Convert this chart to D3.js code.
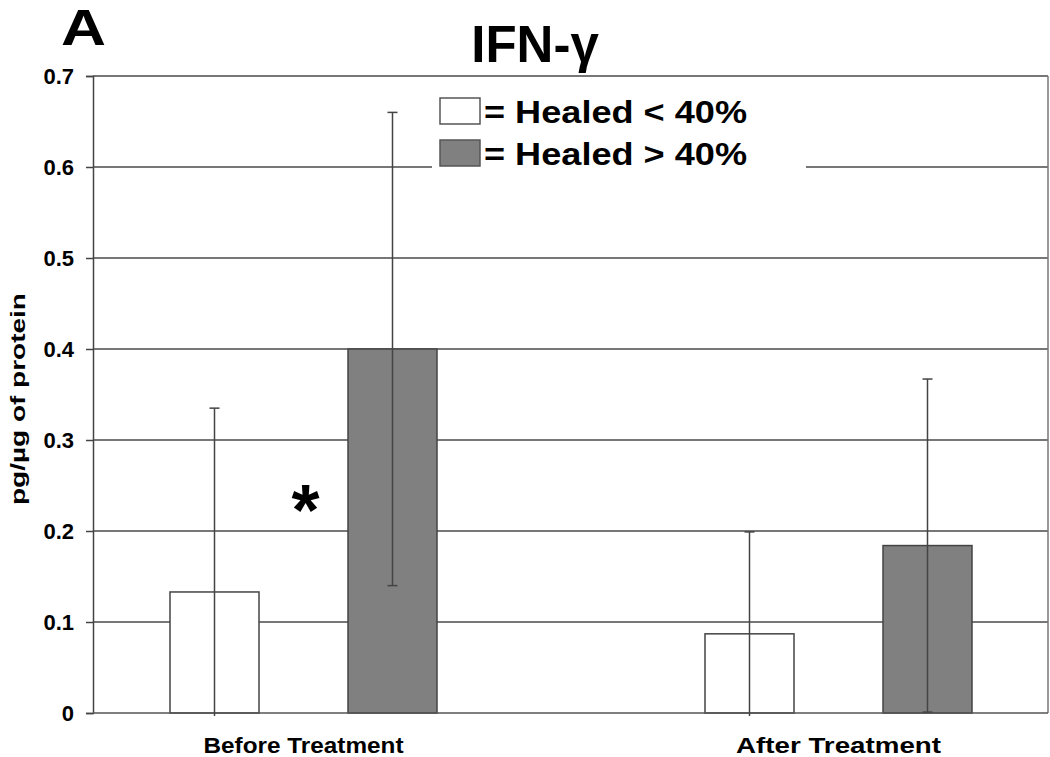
<!DOCTYPE html>
<html><head><meta charset="utf-8">
<script src="https://cdn.jsdelivr.net/npm/d3@7"></script>
<style>body{margin:0;background:#fff}svg{display:block}text{font-family:"Liberation Sans",Arial,sans-serif;font-weight:bold;fill:#000}</style>
</head><body><svg id="c" width="1050" height="757"></svg>
<script>
const categories = ["Before Treatment", "After Treatment"];
const series = ["Healed < 40%", "Healed > 40%"];
const meansLow = [0.133, 0.087];
const meansHigh = [0.400, 0.184];
const errLow = [0.202, 0.112];
const errHigh = [0.260, 0.183];
const yTicks = [0, 0.1, 0.2, 0.3, 0.4, 0.5, 0.6, 0.7];
const yTickLabels = ["0", "0.1", "0.2", "0.3", "0.4", "0.5", "0.6", "0.7"];

const svg = d3.select("#c");
const L = 93, R = 1048, T = 76, B = 713;
const y = d3.scaleLinear().domain([0, 0.7]).range([B, T]);
const x0 = d3.scaleBand().domain(categories).range([36, 1106]).padding(0);
const x1 = d3.scaleBand().domain(series).range([-133.5, 133.5]).paddingInner(0.5).paddingOuter(0);
const colors = {"Healed < 40%": "#ffffff", "Healed > 40%": "#808080"};

const data = [];
categories.forEach((c, i) => {
  data.push({cat: c, s: series[0], v: meansLow[i], e: errLow[i]});
  data.push({cat: c, s: series[1], v: meansHigh[i], e: errHigh[i]});
});

// gridlines
svg.append("g").selectAll("line").data(yTicks.filter(d => d > 0)).join("line")
  .attr("x1", L).attr("x2", R).attr("y1", d => y(d)).attr("y2", d => y(d))
  .attr("stroke", "#4a4a4a").attr("stroke-width", 1.5);

// plot border right
svg.append("line").attr("x1", R).attr("x2", R).attr("y1", T).attr("y2", B).attr("stroke", "#777").attr("stroke-width", 1.5);

// y axis
const yAxis = d3.axisLeft(y).tickValues(yTicks).tickFormat((d, i) => yTickLabels[i]).tickSize(7).tickPadding(12);
const gy = svg.append("g").attr("transform", `translate(${L},0)`).call(yAxis);
gy.select(".domain").attr("stroke", "#444").attr("stroke-width", 1.5);
gy.selectAll(".tick line").attr("stroke", "#444").attr("stroke-width", 1.5);
gy.selectAll(".tick text").style("font-size", "22px").style("font-weight", "bold").attr("fill", "#000")
  .style("font-family", "'Liberation Sans',Arial,sans-serif");

// legend background
svg.append("rect").attr("x", 432).attr("y", 82).attr("width", 374).attr("height", 96).attr("fill", "#fff");

// bars
const bx = d => x0(d.cat) + x0.bandwidth() / 2 + x1(d.s);
svg.append("g").selectAll("rect").data(data).join("rect")
  .attr("x", bx).attr("width", x1.bandwidth())
  .attr("y", d => y(d.v)).attr("height", d => y(0) - y(d.v))
  .attr("fill", d => colors[d.s]).attr("stroke", "#444").attr("stroke-width", 1.5);

// bottom axis
svg.append("line").attr("x1", L).attr("x2", R).attr("y1", B).attr("y2", B).attr("stroke", "#555").attr("stroke-width", 1.5);

// error bars
const eg = svg.append("g").attr("stroke", "#444").attr("stroke-width", 1.5);
data.forEach(d => {
  const cx = bx(d) + x1.bandwidth() / 2;
  const lo = d.v - d.e, hi = d.v + d.e;
  const yLo = lo < 0 ? y(0) + 3 : y(lo);
  eg.append("line").attr("x1", cx).attr("x2", cx).attr("y1", y(hi)).attr("y2", yLo);
  eg.append("line").attr("x1", cx - 5).attr("x2", cx + 5).attr("y1", y(hi)).attr("y2", y(hi));
  if (lo >= 0) eg.append("line").attr("x1", cx - 5).attr("x2", cx + 5).attr("y1", y(lo)).attr("y2", y(lo));
});

// category labels
const catLen = {"Before Treatment": 200, "After Treatment": 205};
svg.append("g").selectAll("text").data(categories).join("text")
  .attr("x", d => x0(d) + x0.bandwidth() / 2).attr("y", 753)
  .attr("text-anchor", "middle").style("font-size", "22px")
  .attr("textLength", d => catLen[d]).attr("lengthAdjust", "spacingAndGlyphs").text(d => d);

// y label
svg.append("text").attr("transform", `translate(25,${y(0.345)}) rotate(-90)`)
  .attr("text-anchor", "middle").style("font-size", "21px")
  .attr("textLength", 212).attr("lengthAdjust", "spacingAndGlyphs").text("pg/µg of protein");

// title
svg.append("text").attr("x", 535).attr("y", 62).attr("text-anchor", "middle").style("font-size", "51px").text("IFN-γ");
svg.append("text").attr("x", 61).attr("y", 45).style("font-size", "50px")
  .attr("textLength", 45).attr("lengthAdjust", "spacingAndGlyphs").text("A");

// asterisk
svg.append("text").attr("x", x0("Before Treatment") + x0.bandwidth() / 2 + 2).attr("y", y(0.196))
  .attr("text-anchor", "middle").style("font-size", "72px").text("*");

// legend
const lg = svg.append("g");
series.forEach((s, i) => {
  const yy = 98 + i * 42;
  lg.append("rect").attr("x", 440).attr("y", yy).attr("width", 40).attr("height", 26)
    .attr("fill", colors[s]).attr("stroke", "#555").attr("stroke-width", 1.5);
  lg.append("text").attr("x", 484).attr("y", yy + 25).style("font-size", "32px")
    .attr("textLength", 263).attr("lengthAdjust", "spacingAndGlyphs").text("= " + s);
});
</script></body></html>
